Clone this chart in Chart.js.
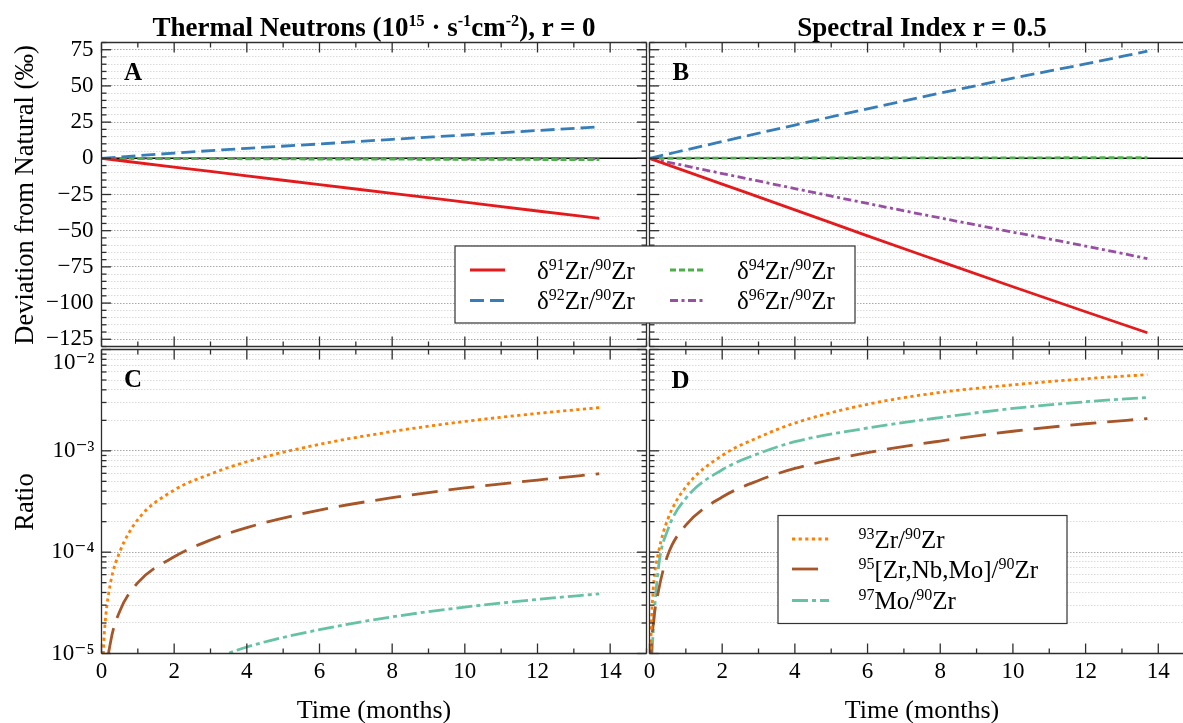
<!DOCTYPE html>
<html>
<head>
<meta charset="utf-8">
<title>Zr isotope evolution under irradiation</title>
<script src="https://cdn.jsdelivr.net/npm/chart.js@4.4.1/dist/chart.umd.min.js"></script>
<style>
  html, body { margin: 0; padding: 0; background: #fff; }
  #figure { position: relative; width: 1183px; height: 723px; overflow: hidden; background: #fff; }
  #figure canvas, #figure svg { position: absolute; left: 0; top: 0; }
  #figure svg text { white-space: pre; }
</style>
</head>
<body>
<div id="figure">
  <canvas id="panelA" width="1183" height="723"></canvas>
  <canvas id="panelB" width="1183" height="723"></canvas>
  <canvas id="panelC" width="1183" height="723"></canvas>
  <canvas id="panelD" width="1183" height="723"></canvas>
  <svg id="annotations" width="1183" height="723" xmlns="http://www.w3.org/2000/svg"></svg>
</div>
<script>
// ---------- data ----------
// Isotope ratio deviations (per mil) vs irradiation time (months)
const months = [0, 2, 4, 6, 8, 10, 12, 13.7];
const thermalD91 = [0, -6.1, -12.1, -18.2, -24.2, -30.3, -36.4, -41.5];
const thermalD92 = [0, 3.6, 6.9, 9.9, 13.1, 16.1, 19.2, 21.7];
const thermalD94 = [0, -0.2, -0.3, -0.5, -0.6, -0.7, -0.8, -0.9];
const thermalD96 = [0, -0.1, -0.1, -0.2, -0.2, -0.3, -0.3, -0.4];
const spectralD91 = [0, -17.8, -35.6, -53.6, -71.2, -88.7, -106.0, -120.5];
const spectralD92 = [0, 11.6, 23.0, 34.2, 45.0, 55.4, 65.2, 74.0];
const spectralD94 = [0, 0.1, 0.2, 0.2, 0.3, 0.3, 0.4, 0.4];
const spectralD96 = [0, -10.5, -20.9, -31.2, -41.2, -51.0, -60.6, -69.3];

// Product / 90Zr atom ratios vs irradiation time (months)
const ratioMonths = [0.02, 0.05, 0.1, 0.25, 0.5, 1, 2, 3, 4, 6, 8, 10, 12, 13.7];
const thermalZr93 = [4e-6, 1.0e-5, 2.0e-5, 5.0e-5, 1.0e-4, 2.1e-4, 4.1e-4, 5.9e-4, 7.8e-4, 1.16e-3, 1.55e-3, 1.95e-3, 2.34e-3, 2.67e-3];
const thermalA95 = [8e-7, 2.2e-6, 5e-6, 1.3e-5, 2.6e-5, 5.0e-5, 9.0e-5, 1.32e-4, 1.75e-4, 2.6e-4, 3.45e-4, 4.3e-4, 5.15e-4, 5.95e-4];
const thermalMo97 = [null, null, null, null, null, null, null, 8.6e-6, 1.16e-5, 1.72e-5, 2.3e-5, 2.87e-5, 3.42e-5, 3.88e-5];
const spectralZr93 = [7e-6, 1.8e-5, 4.2e-5, 1.0e-4, 2.1e-4, 4.4e-4, 9.0e-4, 1.36e-3, 1.88e-3, 2.88e-3, 3.77e-3, 4.48e-3, 5.15e-3, 5.65e-3];
const spectralA95 = [3e-6, 1.05e-5, 1.9e-5, 4.2e-5, 9.3e-5, 1.85e-4, 3.5e-4, 5.1e-4, 6.7e-4, 9.6e-4, 1.25e-3, 1.56e-3, 1.85e-3, 2.08e-3];
const spectralMo97 = [1.5e-6, 6e-6, 1.6e-5, 7.2e-5, 1.65e-4, 3.4e-4, 6.5e-4, 9.4e-4, 1.23e-3, 1.68e-3, 2.13e-3, 2.62e-3, 3.05e-3, 3.36e-3];

// Tick labels
const timeTickLabels = [0, 2, 4, 6, 8, 10, 12, 14];
const deltaTickLabels = [-125, -100, -75, -50, -25, 0, 25, 50, 75];
const ratioDecades = [1e-5, 1e-4, 1e-3, 1e-2];
const ratioDecadeLabels = ['10\u207B\u2075', '10\u207B\u2074', '10\u207B\u00B3', '10\u207B\u00B2'];

// Series labels (^{...} marks a superscript)
const deltaSeriesLabels = ['\u03B4^{91}Zr/^{90}Zr', '\u03B4^{92}Zr/^{90}Zr', '\u03B4^{94}Zr/^{90}Zr', '\u03B4^{96}Zr/^{90}Zr'];
const ratioSeriesLabels = ['^{93}Zr/^{90}Zr', '^{95}[Zr,Nb,Mo]/^{90}Zr', '^{97}Mo/^{90}Zr'];

// ---------- styles ----------
const SERIF = "'Liberation Serif', 'Times New Roman', 'DejaVu Serif', serif";
const W = 1183, H = 723;
const MONTH_PX = 545 / 15;
const Y_LABEL_BAND = 80;   // room kept left of a panel for its y tick labels
const X_LABEL_BAND = 40;   // room kept below a panel for its x tick labels
const panelBoxes = {
  A: { left: 101.5, right: 646.5, top: 42.5, bottom: 346.5, xMax: 15 },
  B: { left: 649.5, right: 1183, top: 42.5, bottom: 346.5, xMax: 14.68 },
  C: { left: 101.5, right: 646.5, top: 349.5, bottom: 653.5, xMax: 15 },
  D: { left: 649.5, right: 1183, top: 349.5, bottom: 653.5, xMax: 14.68 }
};
const deltaStyles = [
  { color: '#e41a1c', dash: [] },
  { color: '#377eb8', dash: [14, 6] },
  { color: '#4daf4a', dash: [6, 3] },
  { color: '#984ea3', dash: [8, 3.5, 3, 3.5] }
];
const ratioStyles = [
  { color: '#ff7f00', dash: [3.2, 3.4] },
  { color: '#a65628', dash: [26, 11] },
  { color: '#66c2a5', dash: [16, 4, 4, 4] }
];
const LINE_W = 2.8;

Chart.defaults.font.family = SERIF;
Chart.defaults.font.size = 23;
Chart.defaults.color = '#000';

// ---------- helpers ----------
const points = (xs, ys) => xs.map((x, i) => ({ x, y: ys[i] }));
const minusSign = v => (v < 0 ? '\u2212' + Math.abs(v) : String(v));
const isDecade = v => Math.abs(Math.log10(v) - Math.round(Math.log10(v))) < 1e-9;

function lineDataset(label, data, style) {
  return {
    label, data,
    borderColor: style.color,
    borderDash: style.dash,
    borderWidth: LINE_W,
    borderCapStyle: 'butt',
    pointRadius: 0,
    fill: false,
    cubicInterpolationMode: 'monotone'
  };
}

// Frame, inward tick marks and the zero reference line
const framePlugin = {
  id: 'frame',
  beforeDatasetsDraw(chart, args, opts) {
    if (!opts.zeroLine) return;
    const { ctx, chartArea: a, scales: { y } } = chart;
    const py = y.getPixelForValue(0);
    ctx.save();
    ctx.strokeStyle = '#000';
    ctx.lineWidth = 1.6;
    ctx.beginPath(); ctx.moveTo(a.left, py); ctx.lineTo(a.right, py); ctx.stroke();
    ctx.restore();
  },
  afterDraw(chart, args, opts) {
    const { ctx, chartArea: a, scales: { x, y } } = chart;
    const seg = (x1, y1, x2, y2) => { ctx.beginPath(); ctx.moveTo(x1, y1); ctx.lineTo(x2, y2); ctx.stroke(); };
    ctx.save();
    ctx.strokeStyle = '#2e2e2e';
    ctx.lineWidth = 1.3;
    x.ticks.forEach(t => {
      const px = x.getPixelForValue(t.value);
      const len = t.value % 2 === 0 ? 10 : 5;
      seg(px, a.top, px, a.top + len);
      seg(px, a.bottom, px, a.bottom - len);
    });
    y.ticks.forEach(t => {
      const py = y.getPixelForValue(t.value);
      const major = opts.logAxis ? isDecade(t.value) : t.value % 25 === 0;
      const len = major ? 9.5 : 5;
      seg(a.left, py, a.left + len, py);
      if (opts.rightSide) seg(a.right, py, a.right - len, py);
    });
    seg(a.left, a.top, a.right, a.top);
    seg(a.left, a.bottom, a.right, a.bottom);
    seg(a.left, a.top, a.left, a.bottom);
    if (opts.rightSide) seg(a.right, a.top, a.right, a.bottom);
    ctx.restore();
  }
};

function makePanel(canvasId, box, datasets, cfg) {
  const yBand = cfg.yLabels ? Y_LABEL_BAND : 0;
  const xBand = cfg.xLabels ? X_LABEL_BAND : 0;
  const yScale = cfg.log ? {
    type: 'logarithmic',
    min: ratioDecades[0],
    max: ratioDecades[ratioDecades.length - 1],
    afterFit: s => { s.width = yBand; },
    afterBuildTicks: s => {
      const ticks = [];
      ratioDecades.forEach((d, i) => {
        if (i === ratioDecades.length - 1) { ticks.push({ value: d }); return; }
        for (let m = 1; m <= 9; m++) ticks.push({ value: m * d });
      });
      s.ticks = ticks;
    },
    grid: {
      drawTicks: false,
      lineWidth: 1,
      color: c => (c.tick && isDecade(c.tick.value) ? '#a8a8a8' : '#dadada')
    },
    border: { display: false, dash: [1.5, 1.5] },
    ticks: {
      display: cfg.yLabels,
      autoSkip: false,
      padding: 7,
      callback: v => {
        const i = ratioDecades.findIndex(d => Math.abs(Math.log10(d) - Math.log10(v)) < 1e-9);
        if (i < 0) return '';
        // the top label sits just inside the panel, below its upper edge
        return i === ratioDecades.length - 1 ? ['', ratioDecadeLabels[i]] : ratioDecadeLabels[i];
      }
    }
  } : {
    type: 'linear',
    min: -130,
    max: 80,
    afterFit: s => { s.width = yBand; },
    grid: {
      drawTicks: false,
      lineWidth: 1,
      color: c => (c.tick && c.tick.value % 25 === 0 ? '#a8a8a8' : '#dadada')
    },
    border: { display: false, dash: [1.5, 1.5] },
    ticks: {
      display: cfg.yLabels,
      stepSize: 5,
      autoSkip: false,
      padding: 8,
      callback: v => (deltaTickLabels.includes(v) ? minusSign(v) : '')
    }
  };

  return new Chart(document.getElementById(canvasId), {
    type: 'line',
    data: { datasets },
    options: {
      responsive: false,
      animation: false,
      events: [],
      layout: {
        padding: {
          left: box.left - yBand,
          right: W - box.right,
          top: box.top,
          bottom: H - box.bottom - xBand
        }
      },
      plugins: {
        legend: { display: false },
        tooltip: { enabled: false },
        frame: { zeroLine: !cfg.log, logAxis: !!cfg.log, rightSide: cfg.rightSide }
      },
      scales: {
        x: {
          type: 'linear',
          min: 0,
          max: box.xMax,
          afterFit: s => { s.height = xBand; },
          afterBuildTicks: s => {
            const ticks = [];
            for (let m = 0; m <= Math.floor(box.xMax); m++) ticks.push({ value: m });
            s.ticks = ticks;
          },
          grid: { display: false, drawTicks: false },
          border: { display: false },
          ticks: {
            display: cfg.xLabels,
            autoSkip: false,
            maxRotation: 0,
            padding: 5,
            callback: v => (timeTickLabels.includes(v) ? String(v) : '')
          }
        },
        y: yScale
      }
    },
    plugins: [framePlugin]
  });
}

// ---------- panels ----------
const deltaA = [thermalD91, thermalD92, thermalD94, thermalD96];
const deltaB = [spectralD91, spectralD92, spectralD94, spectralD96];
const ratioC = [thermalZr93, thermalA95, thermalMo97];
const ratioD = [spectralZr93, spectralA95, spectralMo97];

const chartA = makePanel('panelA', panelBoxes.A,
  deltaA.map((v, i) => lineDataset(deltaSeriesLabels[i], points(months, v), deltaStyles[i])),
  { log: false, yLabels: true, xLabels: false, rightSide: true });
const chartB = makePanel('panelB', panelBoxes.B,
  deltaB.map((v, i) => lineDataset(deltaSeriesLabels[i], points(months, v), deltaStyles[i])),
  { log: false, yLabels: false, xLabels: false, rightSide: false });
const chartC = makePanel('panelC', panelBoxes.C,
  ratioC.map((v, i) => lineDataset(ratioSeriesLabels[i], points(ratioMonths, v), ratioStyles[i])),
  { log: true, yLabels: true, xLabels: true, rightSide: true });
const chartD = makePanel('panelD', panelBoxes.D,
  ratioD.map((v, i) => lineDataset(ratioSeriesLabels[i], points(ratioMonths, v), ratioStyles[i])),
  { log: true, yLabels: false, xLabels: true, rightSide: false });

// ---------- titles, axis titles, panel letters, legends ----------
const NS = 'http://www.w3.org/2000/svg';
const svg = document.getElementById('annotations');
const SUP_SCALE = 0.64, SUP_RISE = 0.36;

function svgEl(tag, attrs, parent) {
  const el = document.createElementNS(NS, tag);
  Object.entries(attrs).forEach(([k, v]) => el.setAttribute(k, v));
  (parent || svg).appendChild(el);
  return el;
}

function richText(x, y, text, size, extra) {
  const opts = extra || {};
  const el = svgEl('text', { x, y, 'font-size': size, 'font-family': SERIF, fill: '#000' });
  if (opts.weight) el.setAttribute('font-weight', opts.weight);
  if (opts.anchor) el.setAttribute('text-anchor', opts.anchor);
  if (opts.rotate) el.setAttribute('transform', `rotate(${opts.rotate} ${x} ${y})`);
  const supScale = opts.supScale || SUP_SCALE;
  let raised = false;
  text.split(/(\^\{[^}]*\})/).forEach(part => {
    if (!part) return;
    const span = document.createElementNS(NS, 'tspan');
    if (part.startsWith('^{')) {
      span.textContent = part.slice(2, -1);
      span.setAttribute('font-size', size * supScale);
      span.setAttribute('dy', raised ? 0 : -size * SUP_RISE);
      raised = true;
    } else {
      span.textContent = part;
      if (raised) span.setAttribute('dy', size * SUP_RISE);
      raised = false;
    }
    el.appendChild(span);
  });
  return el;
}

const centerA = (panelBoxes.A.left + panelBoxes.A.right) / 2;
const centerB = panelBoxes.B.left + 15 * MONTH_PX / 2;

richText(centerA, 36, 'Thermal Neutrons (10^{15} \u00B7 s^{-1}cm^{-2}), r = 0', 27, { weight: 'bold', anchor: 'middle', supScale: 0.6 });
richText(centerB, 36, 'Spectral Index r = 0.5', 27, { weight: 'bold', anchor: 'middle' });

richText(33, 195, 'Deviation from Natural (\u2030)', 26.5, { anchor: 'middle', rotate: -90 });
richText(33, 502, 'Ratio', 26.5, { anchor: 'middle', rotate: -90 });
richText(centerA, 718, 'Time (months)', 26, { anchor: 'middle' });
richText(centerB, 718, 'Time (months)', 26, { anchor: 'middle' });

richText(124, 80, 'A', 25, { weight: 'bold' });
richText(672.5, 80, 'B', 25, { weight: 'bold' });
richText(124, 387, 'C', 25, { weight: 'bold' });
richText(671.5, 387.5, 'D', 25, { weight: 'bold' });

function drawLegend(box, entries) {
  svgEl('rect', { x: box.x, y: box.y, width: box.w, height: box.h, fill: '#fff', stroke: '#333', 'stroke-width': 1.2 });
  entries.forEach(e => {
    svgEl('line', {
      x1: e.sx, x2: e.sx + box.sampleLen, y1: e.y, y2: e.y,
      stroke: e.ds.borderColor, 'stroke-width': LINE_W,
      'stroke-dasharray': e.ds.borderDash.length ? e.ds.borderDash.join(' ') : 'none'
    });
    richText(e.tx, e.y + box.baseline, e.ds.label, box.font);
  });
}

const dsA = chartA.data.datasets;
drawLegend({ x: 455, y: 246, w: 400, h: 77, sampleLen: 35, baseline: 8.5, font: 25 }, [
  { ds: dsA[0], sx: 470, tx: 537, y: 270 },
  { ds: dsA[1], sx: 470, tx: 537, y: 300.5 },
  { ds: dsA[2], sx: 670, tx: 737, y: 270 },
  { ds: dsA[3], sx: 670, tx: 737, y: 300.5 }
]);

const dsD = chartD.data.datasets;
drawLegend({ x: 778, y: 515.5, w: 289, h: 108, sampleLen: 37, baseline: 8.6, font: 25 }, [
  { ds: dsD[0], sx: 792, tx: 858.5, y: 539 },
  { ds: dsD[1], sx: 792, tx: 858.5, y: 569 },
  { ds: dsD[2], sx: 792, tx: 858.5, y: 600.5 }
]);
</script>
</body>
</html>
